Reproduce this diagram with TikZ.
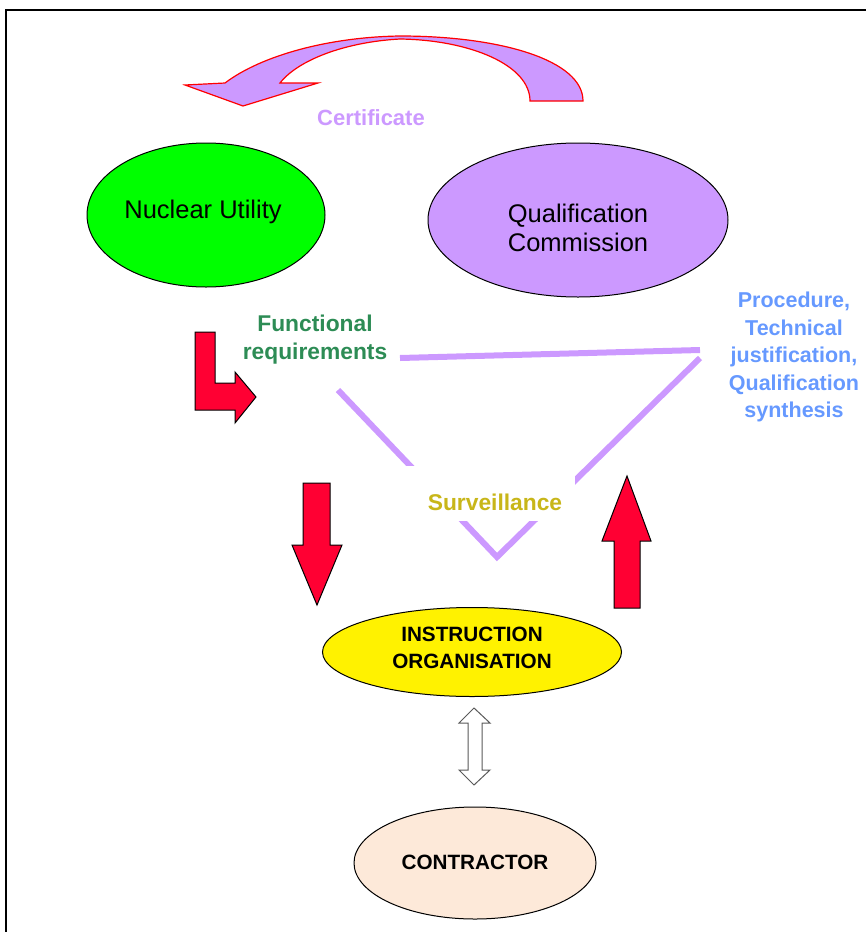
\documentclass[tikz,border=0pt]{standalone}
\usepackage{fontspec}
\setmainfont{Liberation Sans}
\usetikzlibrary{shapes.geometric}
\definecolor{lav}{RGB}{204,153,255}
\definecolor{redar}{RGB}{255,0,51}
\definecolor{peach}{RGB}{253,233,217}
\definecolor{fgreen}{RGB}{45,140,85}
\definecolor{pblue}{RGB}{102,153,255}
\definecolor{survy}{RGB}{200,182,25}
\tikzset{
  oval/.style={ellipse, draw=black, line width=1pt, inner sep=0pt},
  bigtxt/.style={font=\fontsize{25.5}{29}\selectfont, align=center},
  boldtxt/.style={font=\fontsize{22.5}{27.5}\selectfont\bfseries, align=center},
  capstxt/.style={font=\fontsize{20.7}{27}\selectfont\bfseries, align=center},
  redarrow/.style={fill=redar, draw=black, line width=1pt, line join=miter},
  lavline/.style={draw=lav, line width=6pt},
}
\begin{document}
\begin{tikzpicture}[x=1pt, y=-1pt]
\useasboundingbox (0,0) rectangle (866,932);
% border
\draw[line width=2pt] (6,932) -- (6,10) -- (866,10);

% ellipses
\node[oval, fill=green, minimum width=238, minimum height=144] (nu) at (206,215) {};
\node[bigtxt] (nut) at (203,212) {Nuclear Utility};
\node[oval, fill=lav, minimum width=300, minimum height=154] (qc) at (578,220) {};
\node[bigtxt] (qct) at (578,227.5) {Qualification\\Commission};
\node[oval, fill=yellow, minimum width=299, minimum height=89] (io) at (472,652) {};
\node[capstxt] (iot) at (472,647.5) {INSTRUCTION\\ORGANISATION};
\node[oval, fill=peach, minimum width=242, minimum height=112] (ct) at (475,863) {};
\node[capstxt] (ctt) at (475,862) {CONTRACTOR};

% curved certificate arrow
\draw[fill=lav, draw=red, line width=1.2pt, line join=miter]
  (225,83) .. controls (262,55) and (330,37) .. (400,36)
  .. controls (500,36) and (583,60) .. (583,101)
  -- (530,101)
  .. controls (530,65) and (470,40) .. (400,39)
  .. controls (345,42) and (298,60) .. (280,83)
  -- (318,83) -- (243,106) -- (185,85) -- cycle;
\node[boldtxt, text=lav, font=\fontsize{22}{27}\selectfont\bfseries] (cert) at (371,118) {Certificate};

% lavender triangle
\coordinate (tl) at (400,358);
\coordinate (tr) at (700,350);
\coordinate (dl) at (338,390);
\coordinate (dv) at (497,557);
\coordinate (dr) at (700,358);
\draw[lavline] (tl) -- (tr);
\draw[lavline, line join=miter] (dl) -- (dv) -- (dr);
\fill[white] (405,466) rectangle (575,521);
\node[boldtxt, text=survy, font=\fontsize{22.8}{27}\selectfont\bfseries] (surv) at (495,502) {Surveillance};

% texts
\node[boldtxt, text=fgreen, font=\fontsize{22.8}{28}\selectfont\bfseries] (fr) at (315,340) {Functional\\requirements};
\node[boldtxt, text=pblue, font=\fontsize{21.5}{27.5}\selectfont\bfseries] (proc) at (794,357) {Procedure,\\Technical\\justification,\\Qualification\\synthesis};

% red arrows
\draw[redarrow] (195,332) -- (215,332) -- (215,383) -- (235,383) -- (235,372) -- (256,397) -- (235,423) -- (235,410) -- (195,410) -- cycle;
\draw[redarrow] (303,483) -- (330,483) -- (330,545) -- (342,545) -- (317,605) -- (292,545) -- (303,545) -- cycle;
\draw[redarrow] (614,608) -- (640,608) -- (640,541) -- (651,541) -- (627,476) -- (602,541) -- (614,541) -- cycle;

% double arrow
\draw[fill=white, draw=gray!70!black, line width=1pt, line join=miter]
  (474,708) -- (490,723) -- (482,723) -- (482,770) -- (490,770) -- (474,785)
  -- (459,770) -- (468,770) -- (468,723) -- (459,723) -- cycle;
\end{tikzpicture}
\end{document}
